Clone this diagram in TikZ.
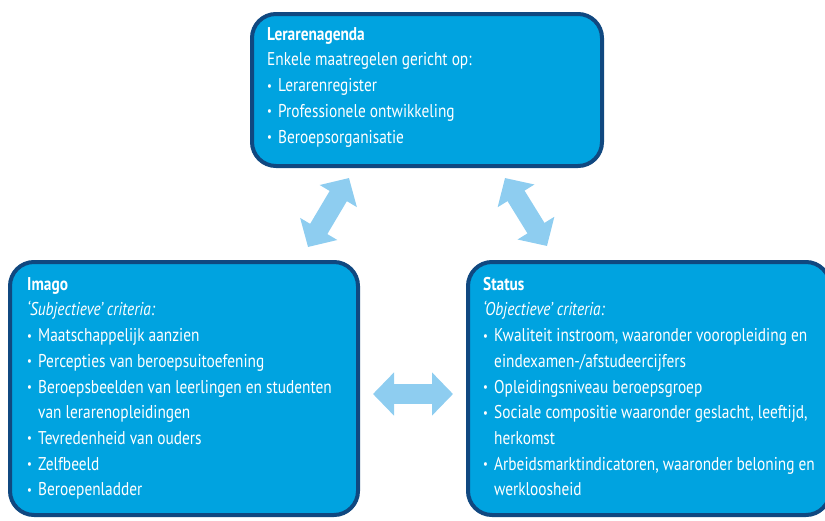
\documentclass[tikz,border=0pt]{standalone}
\usepackage{fontspec}
\setmainfont{PT Sans}[FakeStretch=0.83]
\usetikzlibrary{arrows.meta}
\usetikzlibrary{shadows}

\definecolor{boxblue}{RGB}{0,163,224}
\definecolor{rimblue}{RGB}{16,72,128}
\definecolor{arrowblue}{RGB}{142,205,240}
\newcommand{\bul}{\makebox[11pt][l]{\raisebox{1.5pt}{\scalebox{0.7}{\textbullet}}}}
\newcommand{\ind}{\hspace*{11pt}}

\begin{document}
\begin{tikzpicture}[x=1pt, y=-1pt,
  box/.style={draw=rimblue, line width=4pt, fill=boxblue, rounded corners=24pt,
    drop shadow={shadow xshift=1pt, shadow yshift=-1.5pt, opacity=.25}},
  txt/.style={anchor=north west, inner sep=0, align=left, text=white,
    font=\fontsize{18.5}{25.7}\selectfont},
  twoway/.style={arrowblue, line width=20pt,
    {Triangle[length=21pt,width=42pt]}-{Triangle[length=21pt,width=42pt]}}]
\useasboundingbox (0,0) rectangle (825,520);

% the three boxes
\node[box, minimum width=350pt, minimum height=152pt] (agenda) at (427,90) {};
\node[box, minimum width=348pt, minimum height=253pt] (imago) at (184,388.5) {};
\node[box, minimum width=362pt, minimum height=253pt] (status) at (649,388.5) {};

% texts, first baseline 14pt below the given point
\node[txt] (agendatxt) at (267,26) {\rule{0pt}{14pt}\textbf{Lerarenagenda}\\
  Enkele maatregelen gericht op:\\
  \bul Lerarenregister\\
  \bul Professionele ontwikkeling\\
  \bul Beroepsorganisatie};
\node[txt] (imagotxt) at (27,276) {\rule{0pt}{14pt}\textbf{Imago}\\
  \textit{‘Subjectieve’ criteria:}\\
  \bul Maatschappelijk aanzien\\
  \bul Percepties van beroepsuitoefening\\
  \bul Beroepsbeelden van leerlingen en studenten\\
  \ind van lerarenopleidingen\\
  \bul Tevredenheid van ouders\\
  \bul Zelfbeeld\\
  \bul Beroepenladder};
\node[txt] (statustxt) at (483,276) {\rule{0pt}{14pt}\textbf{Status}\\
  \textit{‘Objectieve’ criteria:}\\
  \bul Kwaliteit instroom, waaronder vooropleiding en\\
  \ind eindexamen-/afstudeercijfers\\
  \bul Opleidingsniveau beroepsgroep\\
  \bul Sociale compositie waaronder geslacht, leeftijd,\\
  \ind herkomst\\
  \bul Arbeidsmarktindicatoren, waaronder beloning en\\
  \ind werkloosheid};

% arrows between the boxes
\coordinate (a1) at (349,178);
\coordinate (i1) at (308,247);
\coordinate (a2) at (505,178);
\coordinate (s1) at (547,246);
\coordinate (i2) at (373,394);
\coordinate (s2) at (453,394);
\draw[twoway] (i1) -- (a1);
\draw[twoway] (a2) -- (s1);
\draw[twoway] (i2) -- (s2);
\end{tikzpicture}
\end{document}
